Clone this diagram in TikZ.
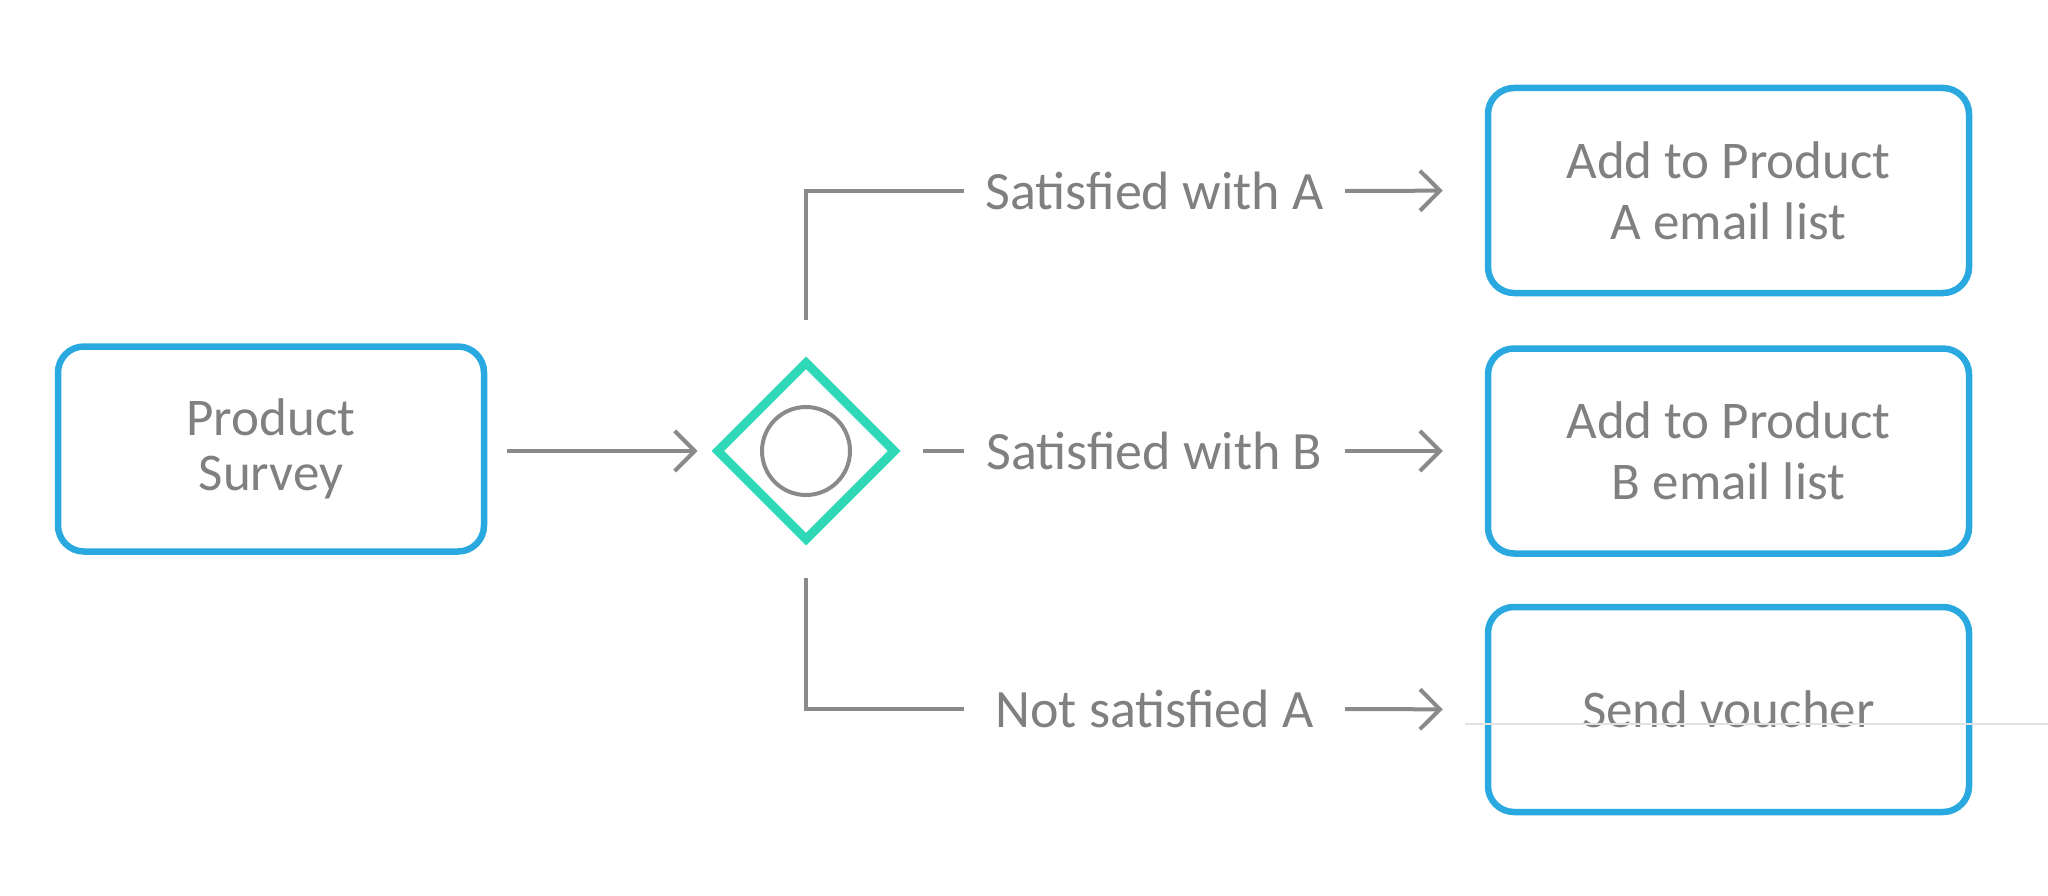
\documentclass[tikz,border=0pt]{standalone}
\usepackage{fontspec}
\setmainfont{Carlito}
\usetikzlibrary{arrows.meta, shapes.geometric}

\definecolor{taskblue}{HTML}{2AA9E1}
\definecolor{gateteal}{HTML}{2FD9B8}
\definecolor{flowgray}{HTML}{8A8A8A}
\definecolor{textgray}{HTML}{808080}
\definecolor{faintgray}{HTML}{E2E2E2}

\begin{document}
\begin{tikzpicture}[x = 1pt, y = -1pt, > = {Straight Barb[length = 20pt, width = 40pt]},
	task/.style = {draw = taskblue, line width = 6.5pt, rounded corners = 26pt, text = textgray,
		minimum height = 205pt, align = center, font = \fontsize{53}{61}\selectfont},
	flow/.style = {draw = flowgray, line width = 4pt},
	branch/.style = {text = textgray, minimum width = 381pt, inner sep = 0pt, font = \fontsize{54}{61}\selectfont}]

	% Definitions

	\def\W{481pt}		% Width of the tasks on the right
	\def\X{1728.5}		% Centre of the tasks on the right

	\useasboundingbox (0, 0) rectangle (2048, 896);

	% Start task and gateway

	\node [task, minimum width = 426pt, font = \fontsize{53}{55}\selectfont] (survey) at (271, 449) {Product\\Survey};
	\node [diamond, draw = gateteal, line width = 9pt, minimum width = 180pt, minimum height = 180pt, inner sep = 0pt] (gate) at (806, 451) {};
	\node [circle, draw = flowgray, line width = 4pt, minimum size = 88pt, inner sep = 0pt] (mark) at (gate) {};

	\draw [flow, ->, shorten < = 20pt, shorten > = 14pt] (survey.east |- gate.west) -- (gate.west);

	% Tasks on the right

	\node [task, minimum width = \W] (listA) at (\X, 190.5) {Add to Product\\A email list};
	\node [task, minimum width = \W] (listB) at (\X, 451) {Add to Product\\B email list};
	\node [task, minimum width = \W] (voucher) at (\X, 709.5) {Send voucher};

	% Branch labels

	\node [branch] (satA) at (1154.5, 191) {Satisfied with A};
	\node [branch] (satB) at (1154.5, 451) {Satisfied with B};
	\node [branch] (notA) at (1154.5, 709) {Not satisfied A};

	% Branch lines

	\draw [flow, shorten < = 37pt] (gate.north) |- (satA.west);
	\draw [flow, shorten < = 22pt] (gate.east) -- (satB.west);
	\draw [flow, shorten < = 32pt] (gate.south) |- (notA.west);

	\foreach \from/\to in {satA/listA, satB/listB, notA/voucher}
	{
		\draw [flow, ->, shorten > = 42pt] (\from.east) -- (\to.west);
	}

	% Faint line across the last task

	\coordinate (faintL) at (1465, 724);
	\coordinate (faintR) at (2048, 724);
	\draw [faintgray, line width = 1.5pt] (faintL) -- (faintR);

\end{tikzpicture}
\end{document}
